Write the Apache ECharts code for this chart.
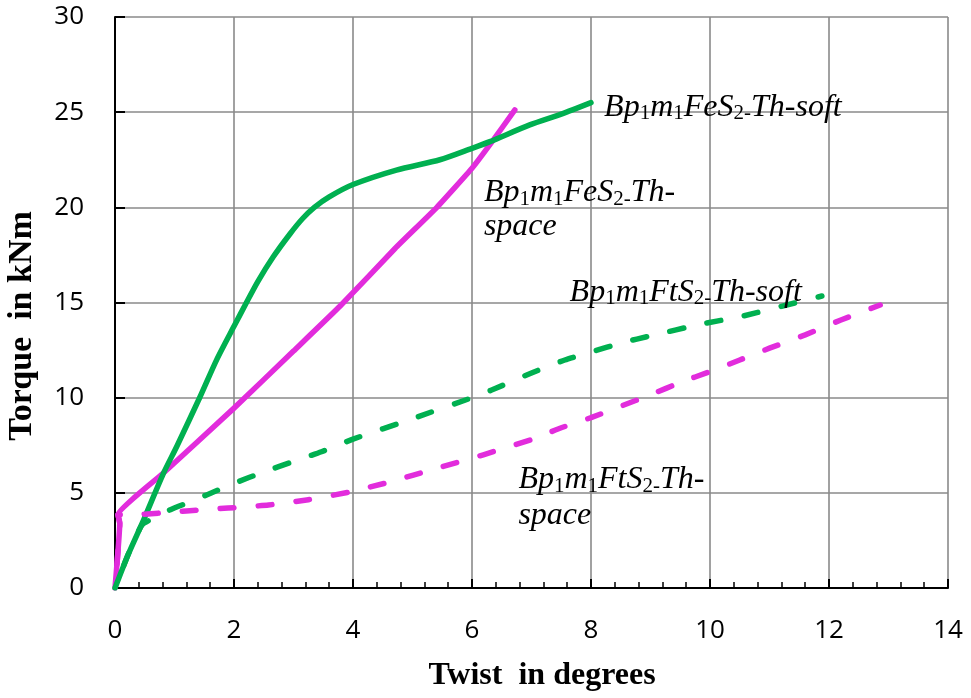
<!DOCTYPE html>
<html>
<head>
<meta charset="utf-8">
<script src="https://cdn.jsdelivr.net/npm/echarts@6/dist/echarts.min.js"></script>
<style>
  html, body { margin: 0; padding: 0; background: #ffffff; }
  #chart { width: 971px; height: 698px; }
</style>
</head>
<body>
<div id="chart"></div>
<script>
// Torque (kNm) against twist (degrees) for four beam specimens.
// Each point is [twist, torque].
const feS2Soft = [
  [0, 0], [0.22, 1.75], [0.48, 3.57], [0.81, 6.0], [1.04, 7.45], [1.43, 10.05],
  [1.71, 12.0], [2.0, 13.75], [2.21, 15.0], [2.4, 16.1], [2.66, 17.4],
  [2.94, 18.6], [3.15, 19.4], [3.35, 20.0], [3.6, 20.55], [4.0, 21.2],
  [4.73, 21.96], [5.46, 22.5], [6.0, 23.1], [6.3, 23.45], [6.97, 24.33],
  [7.5, 24.9], [8.0, 25.5]
];
const feS2Space = [
  [0, 0], [0.08, 3.4], [0.05, 3.85], [0.8, 6.0], [2.0, 9.45], [3.0, 12.45],
  [3.78, 14.8], [4.71, 17.85], [5.41, 20.0], [6.0, 22.05], [6.35, 23.5],
  [6.72, 25.12]
];
const ftS2Soft = [
  [0, 0], [0.22, 1.75], [0.45, 3.3], [0.64, 3.66], [0.92, 4.1], [1.26, 4.53],
  [1.54, 4.89], [2.0, 5.5], [2.5, 6.1], [3.0, 6.65], [3.47, 7.16], [4.0, 7.82],
  [5.0, 8.9], [6.0, 10.0], [6.33, 10.4], [7.0, 11.3], [7.56, 11.98],
  [8.0, 12.4], [8.54, 12.9], [9.0, 13.25], [9.86, 13.87], [10.5, 14.25],
  [11.2, 14.8], [11.88, 15.34]
];
const ftS2Space = [
  [0, 0], [0.08, 3.4], [0.05, 3.85], [0.25, 3.84], [1.2, 4.05], [1.9, 4.2],
  [2.58, 4.36], [3.25, 4.64], [3.92, 5.03], [4.57, 5.53], [5.0, 5.92],
  [5.5, 6.37], [6.19, 7.0], [7.0, 7.8], [7.5, 8.42], [8.0, 8.95],
  [8.5, 9.55], [9.0, 10.15], [9.5, 10.8], [10.0, 11.37], [10.5, 11.98],
  [11.0, 12.6], [11.6, 13.3], [12.2, 14.08], [12.86, 14.87]
];

// Curve captions (rich text with subscripts)
const captionFeSoft  = '{m|Bp}{s|1}{m|m}{s|1}{m|FeS}{s|2-}{m|Th-soft}';
const captionFeSpace = '{m|Bp}{s|1}{m|m}{s|1}{m|FeS}{s|2-}{m|Th-}\n{m|space}';
const captionFtSoft  = '{m|Bp}{s|1}{m|m}{s|1}{m|FtS}{s|2-}{m|Th-soft}';
const captionFtSpace = '{m|Bp}{s|1}{m|m}{s|1}{m|FtS}{s|2-}{m|Th-}\n{m|space}';

const xTitle = 'Twist  in degrees';
const yTitle = 'Torque  in kNm';

const GREEN = '#00B050';
const MAGENTA = '#E22CDC';

function captionRich(lineHeight) {
  return {
    m: { fontFamily: 'Liberation Serif', fontStyle: 'italic', fontSize: 32, lineHeight: lineHeight, color: '#000' },
    s: { fontFamily: 'Liberation Serif', fontSize: 21, lineHeight: lineHeight - 21, verticalAlign: 'bottom', color: '#000' }
  };
}

function caption(text, coord, lineHeight) {
  return {
    coord: coord,
    symbol: 'circle',
    symbolSize: 0,
    label: {
      show: true,
      position: [0, 0],
      align: 'left',
      verticalAlign: 'top',
      formatter: text,
      rich: captionRich(lineHeight)
    }
  };
}

function curve(name, data, color, dashed, smooth, captionItem) {
  return {
    name: name,
    type: 'line',
    data: data,
    showSymbol: false,
    symbol: 'none',
    smooth: smooth,
    lineStyle: {
      color: color,
      width: 5.5,
      type: dashed ? [14, 24] : 'solid',
      dashOffset: dashed ? 14 : 0,
      cap: 'round',
      join: 'round'
    },
    emphasis: { disabled: true },
    markPoint: {
      silent: true,
      animation: false,
      data: [captionItem]
    }
  };
}

const chart = echarts.init(document.getElementById('chart'), null, { renderer: 'canvas' });

chart.setOption({
  animation: false,
  backgroundColor: '#ffffff',
  grid: { left: 115, right: 23, top: 17, bottom: 110, containLabel: false },
  xAxis: {
    type: 'value',
    min: 0, max: 14, interval: 2,
    axisLine: { show: true, onZero: false, lineStyle: { color: '#000', width: 2 } },
    axisTick: { show: true, inside: true, length: 9, lineStyle: { color: '#000', width: 2 } },
    minorTick: { show: true, splitNumber: 5, length: 6, lineStyle: { color: '#000', width: 1.5 } },
    splitLine: { show: true, lineStyle: { color: '#8a8a8a', width: 1.6 } },
    axisLabel: { margin: 30, fontFamily: 'Open Sans', fontSize: 26, color: '#000' }
  },
  yAxis: {
    type: 'value',
    min: 0, max: 30, interval: 5,
    axisLine: { show: true, onZero: false, lineStyle: { color: '#000', width: 2 } },
    axisTick: { show: true, inside: true, length: 10, lineStyle: { color: '#000', width: 2 } },
    splitLine: { show: true, lineStyle: { color: '#8a8a8a', width: 1.6 } },
    axisLabel: { margin: 31, fontFamily: 'Open Sans', fontSize: 26, color: '#000' }
  },
  graphic: [
    {
      type: 'text', x: 542, y: 676,
      style: { text: xTitle, fontFamily: 'Liberation Serif', fontWeight: 'bold', fontSize: 32, fill: '#000', align: 'center', verticalAlign: 'middle' }
    },
    {
      type: 'text', x: 22, y: 326, rotation: Math.PI / 2,
      style: { text: yTitle, fontFamily: 'Liberation Serif', fontWeight: 'bold', fontSize: 34, fill: '#000', align: 'center', verticalAlign: 'middle' }
    }
  ],
  series: [
    curve('FeS2 Th-space', feS2Space, MAGENTA, false, 0.12, caption(captionFeSpace, [6.2, 21.65], 34)),
    curve('FeS2 Th-soft', feS2Soft, GREEN, false, 0.25, caption(captionFeSoft, [8.22, 26.1], 33)),
    curve('FtS2 Th-space', ftS2Space, MAGENTA, true, 0.15, caption(captionFtSpace, [6.78, 6.65], 36)),
    curve('FtS2 Th-soft', ftS2Soft, GREEN, true, 0.2, caption(captionFtSoft, [7.64, 16.4], 33))
  ]
});
</script>
</body>
</html>
